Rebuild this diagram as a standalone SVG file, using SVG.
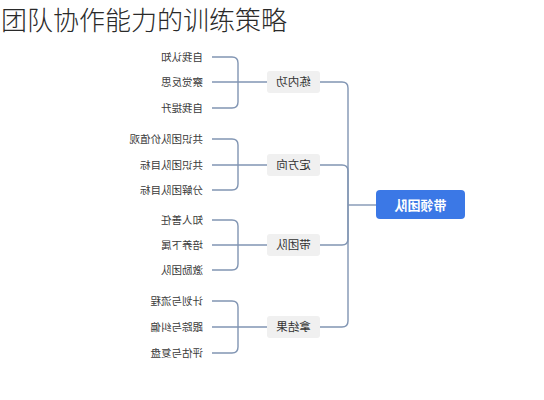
<svg xmlns="http://www.w3.org/2000/svg" width="544" height="400" viewBox="0 0 544 400">
<style>
  .title { font-family: "Noto Sans CJK SC", "Noto Sans", sans-serif; font-size: 26px; font-weight: 300; fill: #2a2a2a; }
  .root-box { fill: #3b78e6; }
  .root-txt { font-family: "Noto Sans CJK SC", "Noto Sans", sans-serif; font-size: 13px; font-weight: bold; fill: #ffffff; text-anchor: middle; }
  .mid-box { fill: #f0f0f0; }
  .mid-txt { font-family: "Noto Sans CJK SC", "Noto Sans", sans-serif; font-size: 11.5px; fill: #333333; text-anchor: middle; }
  .leaf-txt { font-family: "Noto Sans CJK SC", "Noto Sans", sans-serif; font-size: 10.5px; fill: #3a3a3a; text-anchor: start; }
  .conn path { fill: none; stroke: #8195b3; stroke-width: 1.4; }
</style>
<rect width="544" height="400" fill="#ffffff"/>
<text class="title" x="1" y="30">团队协作能力的训练策略</text>

<g id="connectors" class="conn">
  <path d="M376,205 H348"/>
  <path d="M348,205 V88 Q348,82 342,82 H320"/>
  <path d="M348,205 V171 Q348,165 342,165 H320"/>
  <path d="M348,205 V239 Q348,245 342,245 H320"/>
  <path d="M348,205 V321 Q348,327 342,327 H320"/>
  <path d="M267,82 H212"/>
  <path d="M238,82 V63 Q238,57 232,57 H212"/>
  <path d="M238,82 V102 Q238,108 232,108 H212"/>
  <path d="M267,165 H212"/>
  <path d="M238,165 V145 Q238,139 232,139 H212"/>
  <path d="M238,165 V184 Q238,190 232,190 H212"/>
  <path d="M267,245 H212"/>
  <path d="M238,245 V226 Q238,220 232,220 H212"/>
  <path d="M238,245 V264 Q238,270 232,270 H212"/>
  <path d="M267,327 H212"/>
  <path d="M238,327 V307 Q238,301 232,301 H212"/>
  <path d="M238,327 V347 Q238,353 232,353 H212"/>
</g>

<g id="root">
  <rect class="root-box" x="376" y="190" width="89" height="29" rx="4"/>
  <text class="root-txt" transform="scale(-1,1)" x="-420.5" y="209.5">带领团队</text>
</g>

<g id="n-lianneigong">
  <rect class="mid-box" x="267" y="71" width="53" height="22" rx="3"/>
  <text class="mid-txt" transform="scale(-1,1)" x="-293.5" y="86">练内功</text>
</g>
<g id="n-dingfangxiang">
  <rect class="mid-box" x="267" y="154" width="53" height="22" rx="3"/>
  <text class="mid-txt" transform="scale(-1,1)" x="-293.5" y="169">定方向</text>
</g>
<g id="n-daituandui">
  <rect class="mid-box" x="267" y="234" width="53" height="22" rx="3"/>
  <text class="mid-txt" transform="scale(-1,1)" x="-293.5" y="249">带团队</text>
</g>
<g id="n-najieguo">
  <rect class="mid-box" x="267" y="316" width="53" height="22" rx="3"/>
  <text class="mid-txt" transform="scale(-1,1)" x="-293.5" y="331">拿结果</text>
</g>

<g id="leaf-1-1"><text class="leaf-txt" transform="scale(-1,1)" x="-203" y="61">自我认知</text></g>
<g id="leaf-1-2"><text class="leaf-txt" transform="scale(-1,1)" x="-203" y="86">察觉反思</text></g>
<g id="leaf-1-3"><text class="leaf-txt" transform="scale(-1,1)" x="-203" y="112">自我提升</text></g>

<g id="leaf-2-1"><text class="leaf-txt" transform="scale(-1,1)" x="-203" y="143">共识团队价值观</text></g>
<g id="leaf-2-2"><text class="leaf-txt" transform="scale(-1,1)" x="-203" y="169">共识团队目标</text></g>
<g id="leaf-2-3"><text class="leaf-txt" transform="scale(-1,1)" x="-203" y="194">分解团队目标</text></g>

<g id="leaf-3-1"><text class="leaf-txt" transform="scale(-1,1)" x="-203" y="224">知人善任</text></g>
<g id="leaf-3-2"><text class="leaf-txt" transform="scale(-1,1)" x="-203" y="249">培养下属</text></g>
<g id="leaf-3-3"><text class="leaf-txt" transform="scale(-1,1)" x="-203" y="274">激励团队</text></g>

<g id="leaf-4-1"><text class="leaf-txt" transform="scale(-1,1)" x="-203" y="305">计划与流程</text></g>
<g id="leaf-4-2"><text class="leaf-txt" transform="scale(-1,1)" x="-203" y="331">跟踪与纠偏</text></g>
<g id="leaf-4-3"><text class="leaf-txt" transform="scale(-1,1)" x="-203" y="357">评估与复盘</text></g>
</svg>
